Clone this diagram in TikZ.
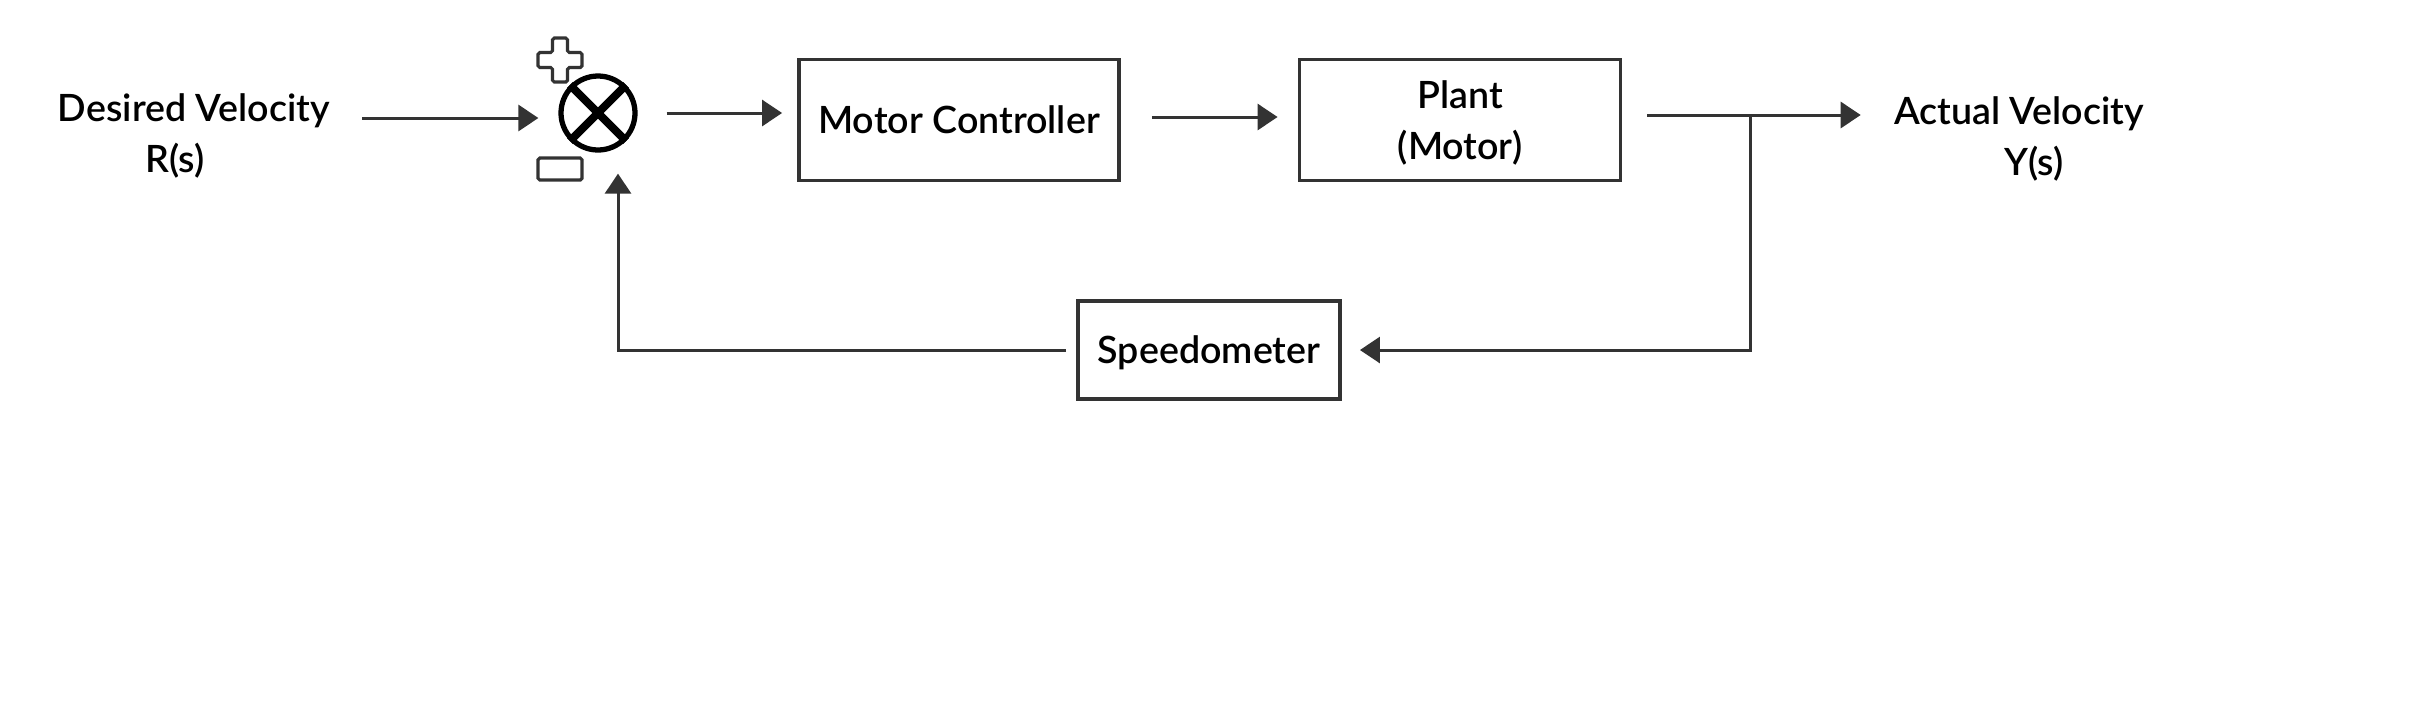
\documentclass[tikz,border=0pt]{standalone}
\usepackage{fontspec}
\setmainfont{Lato}[UprightFont=* Semibold]
\usepackage{xcolor}
\usetikzlibrary{arrows.meta,calc,positioning}
\definecolor{linegray}{RGB}{51,51,51}

\begin{document}
\begin{tikzpicture}[>={Triangle[length=0.2cm,width=0.26cm]},
    block/.style={draw=linegray, line width=1.1pt, inner sep=0pt, align=center,
      text depth=0pt, font=\fontsize{10.7}{14.6}\selectfont},
    sigtext/.style={align=center, font=\fontsize{10.7}{14.4}\selectfont},
    signal/.style={draw=linegray, line width=0.85pt, ->}]
    \useasboundingbox (0,0) rectangle (24.2,7);

    % Input and output labels
    \node[sigtext] (ref) at (1.94,5.64) {Desired Velocity\\R(s)\hspace*{0.38cm}};
    \node[sigtext] (out) at (20.19,5.61) {Actual Velocity\\\hspace*{0.3cm}Y(s)};

    % Summing junction with its signs
    \node[circle, draw=black, line width=1.5pt, minimum size=0.74cm, inner sep=0pt] (sum) at (5.98,5.87) {};
    \draw[line width=2.3pt] (sum.north west) -- (sum.south east);
    \draw[line width=2.3pt] (sum.north east) -- (sum.south west);
    \draw[linegray, line width=0.9pt, rounded corners=0.5pt]
      (5.525,6.62) -- (5.675,6.62) -- (5.675,6.475) -- (5.82,6.475) -- (5.82,6.325)
      -- (5.675,6.325) -- (5.675,6.18) -- (5.525,6.18) -- (5.525,6.325) -- (5.38,6.325)
      -- (5.38,6.475) -- (5.525,6.475) -- cycle;
    \draw[linegray, line width=0.9pt, rounded corners=0.5pt] (5.38,5.42) rectangle (5.82,5.20);

    % Blocks
    \node[block, minimum width=3.2cm, minimum height=1.21cm] (ctrl) at (9.59,5.80) {Motor Controller};
    \node[block, minimum width=3.21cm, minimum height=1.21cm] (plant) at (14.60,5.80) {Plant\\(Motor)};
    \node[block, minimum width=2.62cm, minimum height=0.98cm] (meter) at (12.09,3.50) {Speedometer};

    % Forward path
    \coordinate (split) at (17.50,5.85);
    \draw[signal, shorten <=0.2cm, shorten >=0.2cm] (ref.east |- 0,5.82) -- (sum.west |- 0,5.82);
    \draw[signal, shorten <=0.29cm, shorten >=0.15cm] (sum.east) -- (sum.east -| ctrl.west);
    \draw[signal, shorten <=0.31cm, shorten >=0.2cm] (ctrl.east |- 0,5.83) -- (plant.west |- 0,5.83);
    \draw[signal, shorten >=0.21cm] ($(plant.east |- split)+(0.25,0)$) -- (split) -- (out.west |- split);

    % Feedback path
    \coordinate (back) at (6.18,3.50);
    \draw[signal, shorten >=0.18cm] (split) -- (split |- meter) -- (meter.east);
    \draw[signal, shorten <=0.1cm, shorten >=0.21cm] (meter.west) -- (back) -- (back |- sum.south);
\end{tikzpicture}
\end{document}
